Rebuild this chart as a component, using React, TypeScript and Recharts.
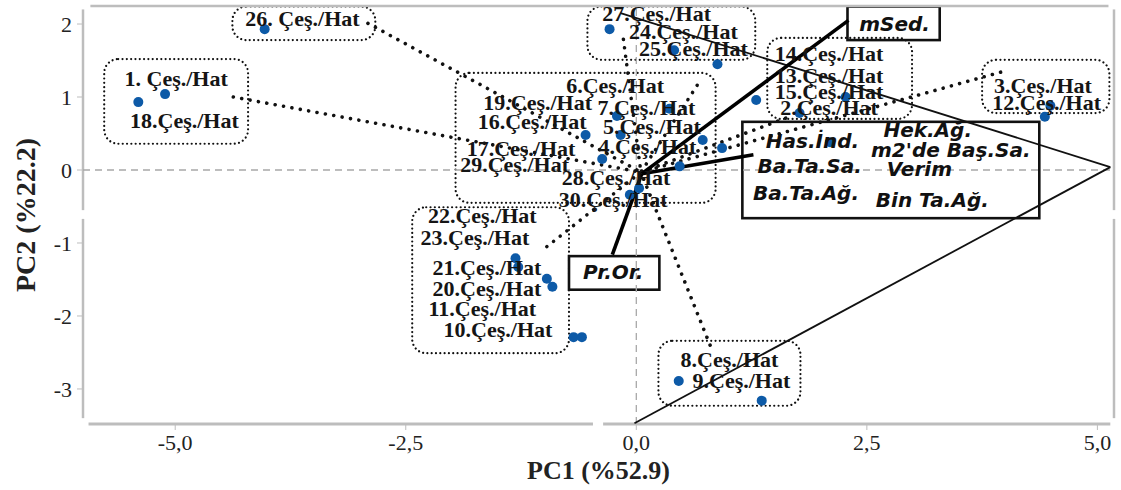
import React from 'react';
import { ScatterChart, Scatter, XAxis, YAxis, ReferenceLine, ReferenceArea } from 'recharts';

// genotype scores on the first two components
const genotype = [26, 1, 18, 27, 24, 25, 14, 13, 15, 2, 3, 12, 6, 19, 7, 16, 5, 17, 4, 29, 28, 30, 22, 23, 21, 20, 11, 10, 8, 9];
const pc1 = [-4.03, -5.11, -5.4, -0.29, 0.41, 0.88, 1.3, 2.27, 1.77, 2.1, 4.49, 4.43, 0.36, -0.21, -0.55, -0.17, 0.72, 0.93, -0.37, 0.47, 0.03, -0.07, -1.31, -1.28, -0.97, -0.91, -0.68, -0.59, 0.46, 1.36];
const pc2 = [1.93, 1.04, 0.93, 1.93, 1.64, 1.45, 0.96, 1.0, 0.78, 0.38, 0.88, 0.73, 0.84, 0.74, 0.48, 0.48, 0.41, 0.3, 0.15, 0.05, -0.25, -0.34, -1.21, -1.33, -1.49, -1.6, -2.29, -2.29, -2.89, -3.16];

const xTicks = [-5, -2.5, 0, 2.5, 5];
const yTicks = [-3, -2, -1, 0, 1, 2];

// genotype label annotations (data units)
const labelText = ['26. Çeş./Hat', '1. Çeş./Hat', '18.Çeş./Hat', '27.Çeş./Hat', '24.Çeş./Hat', '25.Çeş./Hat', '14.Çeş./Hat', '13.Çeş./Hat', '15.Çeş./Hat', '2.Çeş./Hat', '3.Çeş./Hat', '12.Çeş./Hat', '6.Çeş./Hat', '19.Çeş./Hat', '7.Çeş./Hat', '16.Çeş./Hat', '5.Çeş./Hat', '17.Çeş./Hat', '4.Çeş./Hat', '29.Çeş./Hat', '28.Çeş./Hat', '30.Çeş./Hat', '22.Çeş./Hat', '23.Çeş./Hat', '21.Çeş./Hat', '20.Çeş./Hat', '11.Çeş./Hat', '10.Çeş./Hat', '8.Çeş./Hat', '9.Çeş./Hat'];
const labelX = [-3.62, -4.99, -4.9, 0.22, 0.51, 0.62, 2.09, 2.09, 2.09, 2.09, 4.41, 4.45, -0.23, -1.07, 0.11, -1.13, 0.17, -1.25, 0.12, -1.32, -0.22, -0.25, -1.67, -1.75, -1.62, -1.62, -1.67, -1.5, 1.01, 1.14];
const labelY = [2.07, 1.25, 0.68, 2.15, 1.9, 1.67, 1.6, 1.3, 1.07, 0.85, 1.16, 0.92, 1.16, 0.92, 0.85, 0.66, 0.59, 0.3, 0.32, 0.07, -0.1, -0.41, -0.62, -0.93, -1.33, -1.62, -1.9, -2.19, -2.6, -2.89];

// trait labels
const traitText = ['mSed.', 'Pr.Or.', 'Has.İnd.', 'Hek.Ağ.', "m2'de Baş.Sa.", 'Ba.Ta.Sa.', 'Verim', 'Ba.Ta.Ağ.', 'Bin Ta.Ağ.'];
const traitX = [2.8, -0.25, 1.91, 3.16, 3.41, 1.88, 3.07, 1.84, 3.21];
const traitY = [2.0, -1.4, 0.4, 0.55, 0.27, 0.05, 0.01, -0.32, -0.41];

// loading vectors (origin -> tip)
const vecOrigin = { x: 0.06, y: -0.05 };
const vecTipX = [2.3, 1.27, -0.26];
const vecTipY = [2.05, 0.21, -1.16];

// outline polygon
const polyX = [-0.17, 5.14, -0.02];
const polyY = [2.15, 0.04, -3.47];

// dotted leaders from label groups to the centre
const hub = { x: 0.05, y: -0.03 };
const leaderX = [-2.91, -4.37, -0.14, 0.66, 3.95, 1.62, 0.8, -0.97];
const leaderY = [2.01, 1.0, 1.79, 1.16, 1.34, 0.71, -2.4, -1.05];

// group boxes [x1, x2, y1, y2]
const groupBoxes = [
  [-4.38, -2.83, 1.78, 2.24],
  [-5.77, -4.21, 0.36, 1.52],
  [-0.53, 1.29, 1.51, 2.24],
  [1.42, 2.99, 0.7, 1.81],
  [3.75, 5.13, 0.78, 1.51],
  [-1.96, 0.86, -0.45, 1.33],
  [-2.43, -0.73, -2.51, -0.51],
  [0.24, 1.78, -3.23, -2.34],
];
const traitBoxes = [
  [2.29, 3.29, 1.78, 2.24],
  [1.15, 4.37, -0.66, 0.66],
  [-0.73, 0.25, -1.64, -1.18],
];

const X_MIN = -6.0, X_MAX = 5.18, Y_MIN = -3.48, Y_MAX = 2.247;
const FRAME = '#bdbdbd';

const points = genotype.map((g, i) => ({ id: g, x: pc1[i], y: pc2[i] }));
const genoLabels = labelText.map((t, i) => ({ text: t, x: labelX[i], y: labelY[i] }));
const traitLabels = traitText.map((t, i) => ({ text: t, x: traitX[i], y: traitY[i] }));

const fmtTick = (v: number) => v.toFixed(1).replace('.', ',');

const dottedBox = (p: any) => (
  <rect x={p.x} y={p.y} width={p.width} height={p.height} rx={14} ry={14}
    fill="none" stroke="#111" strokeWidth={2.2} strokeDasharray="0.01 4.3" strokeLinecap="round" />
);
const solidBox = (p: any) => (
  <rect x={p.x} y={p.y} width={p.width} height={p.height} fill="none" stroke="#111" strokeWidth={2.6} />
);

export default function App() {
  return (
    <div style={{ position: 'absolute', left: 0, top: 0, width: 1121, height: 490, background: '#fff' }}>
      <ScatterChart width={1121} height={490} margin={{ top: 6, right: 7, left: 0, bottom: 0 }}>
        <XAxis
          type="number" dataKey="x" domain={[X_MIN, X_MAX]} ticks={xTicks} allowDataOverflow
          tickFormatter={fmtTick} axisLine={false} tickLine={{ stroke: FRAME }} tickSize={6} tickMargin={4}
          height={66} tick={{ fontFamily: 'Liberation Serif', fontSize: 22, fill: '#222' }}
          label={{
            content: ({ viewBox }: any) => (
              <text x={viewBox.x + viewBox.width / 2} y={470} textAnchor="middle" dominantBaseline="central"
                fontFamily="Liberation Serif" fontWeight="bold" fontSize={26} fill="#222">PC1 (%52.9)</text>
            ),
          }}
        />
        <YAxis
          type="number" dataKey="y" domain={[Y_MIN, Y_MAX]} ticks={yTicks} allowDataOverflow
          axisLine={false} tickLine={{ stroke: FRAME }} tickSize={6} tickMargin={5} width={83}
          tick={{ fontFamily: 'Liberation Serif', fontSize: 22, fill: '#222' }}
          label={{
            content: ({ viewBox }: any) => {
              const cy = viewBox.y + viewBox.height / 2;
              return (
                <text x={25} y={cy} transform={`rotate(-90 25 ${cy})`} textAnchor="middle" dominantBaseline="central"
                  fontFamily="Liberation Serif" fontWeight="bold" fontSize={28} fill="#222">PC2 (%22.2)</text>
              );
            },
          }}
        />

        {/* frame, Minitab style with breaks */}
        <ReferenceLine ifOverflow="visible" segment={[{ x: -5.92, y: Y_MAX }, { x: 5.12, y: Y_MAX }]} stroke={FRAME} strokeWidth={2.5} />
        <ReferenceLine ifOverflow="visible" segment={[{ x: -5.94, y: Y_MIN }, { x: -0.47, y: Y_MIN }]} stroke={FRAME} strokeWidth={3} />
        <ReferenceLine ifOverflow="visible" segment={[{ x: -0.36, y: Y_MIN }, { x: 5.14, y: Y_MIN }]} stroke={FRAME} strokeWidth={3} />
        <ReferenceLine ifOverflow="visible" segment={[{ x: X_MIN, y: 2.2 }, { x: X_MIN, y: -0.55 }]} stroke={FRAME} strokeWidth={2.5} />
        <ReferenceLine ifOverflow="visible" segment={[{ x: X_MIN, y: -0.67 }, { x: X_MIN, y: -3.4 }]} stroke={FRAME} strokeWidth={2.5} />
        <ReferenceLine ifOverflow="visible" segment={[{ x: X_MAX, y: 2.2 }, { x: X_MAX, y: -0.55 }]} stroke={FRAME} strokeWidth={2.5} />
        <ReferenceLine ifOverflow="visible" segment={[{ x: X_MAX, y: -0.67 }, { x: X_MAX, y: -3.4 }]} stroke={FRAME} strokeWidth={2.5} />

        <ReferenceLine x={0} stroke="#a8a8a8" strokeWidth={1.3} strokeDasharray="7 5" />
        <ReferenceLine y={0} stroke="#a8a8a8" strokeWidth={1.3} strokeDasharray="7 5" />

        {groupBoxes.map((b, i) => (
          <ReferenceArea key={'g' + i} ifOverflow="visible" x1={b[0]} x2={b[1]} y1={b[2]} y2={b[3]} shape={dottedBox} />
        ))}

        {leaderX.map((lx, i) => (
          <ReferenceLine key={'l' + i} ifOverflow="visible" segment={[{ x: lx, y: leaderY[i] }, hub]}
            stroke="#111" strokeWidth={3.6} strokeDasharray="0.01 8.5" strokeLinecap="round" />
        ))}

        {polyX.slice(0, -1).map((px, i) => (
          <ReferenceLine key={'p' + i} ifOverflow="visible"
            segment={[{ x: px, y: polyY[i] }, { x: polyX[i + 1], y: polyY[i + 1] }]} stroke="#111" strokeWidth={1.8} />
        ))}

        {vecTipX.map((vx, i) => (
          <ReferenceLine key={'v' + i} ifOverflow="visible" segment={[vecOrigin, { x: vx, y: vecTipY[i] }]}
            stroke="#000" strokeWidth={3.6} />
        ))}

        {traitBoxes.map((b, i) => (
          <ReferenceArea key={'t' + i} ifOverflow="visible" x1={b[0]} x2={b[1]} y1={b[2]} y2={b[3]} shape={solidBox} />
        ))}

        <Scatter data={points} isAnimationActive={false}
          shape={(p: any) => <circle cx={p.cx} cy={p.cy} r={5} fill="#0d5aa7" />} />

        <Scatter data={genoLabels} isAnimationActive={false}
          shape={(p: any) => (
            <text x={p.cx} y={p.cy} textAnchor="middle" dominantBaseline="central"
              fontFamily="Liberation Serif" fontWeight="bold" fontSize={22} fill="#151515">{p.payload.text}</text>
          )} />

        <Scatter data={traitLabels} isAnimationActive={false}
          shape={(p: any) => (
            <text x={p.cx} y={p.cy} textAnchor="middle" dominantBaseline="central"
              fontFamily="DejaVu Sans" fontWeight="bold" fontStyle="italic" fontSize={20} fill="#111">{p.payload.text}</text>
          )} />
      </ScatterChart>
    </div>
  );
}
